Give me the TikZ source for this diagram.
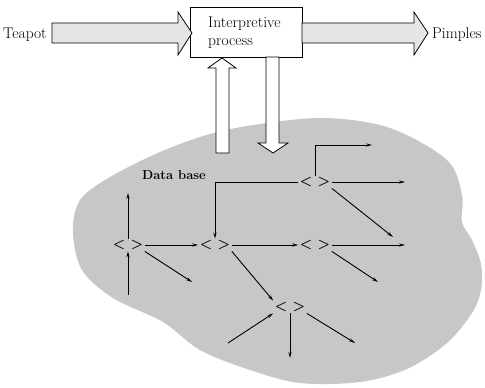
\documentclass[tikz,border=0pt]{standalone}
\usepackage{fontspec}
\usetikzlibrary{arrows.meta}
\begin{document}
\begin{tikzpicture}[x=1pt,y=-1pt,
  lbl/.style={font=\fontsize{15.5}{17.5}\selectfont, inner sep=0pt},
  vtx/.style={font=\bfseries\fontsize{14}{16}\selectfont, inner sep=1.5pt},
  arr/.style={line width=0.9pt, -{Stealth[length=6pt,width=3.2pt]}},
  fat/.style={draw=black, line width=0.8pt, fill=black!10, line join=miter},
  hollow/.style={draw=black, line width=0.8pt, fill=white}]
\useasboundingbox (0,0) rectangle (485,388);
% data base blob
\fill[black!22] plot[smooth cycle, tension=0.55] coordinates {
 (73,232) (80,200) (110,177) (160,152) (210,134) (260,124) (325,118)
 (390,128) (447,160) (462,195) (462,222) (472,240) (481,264) (481,290)
 (472,313) (447,343) (407,369) (360,382) (300,383) (250,370) (200,350)
 (163,322) (113,298) (82,270)};
% labels and box
\node[lbl, anchor=base west] (teapot) at (3,38) {Teapot};
\node[lbl, anchor=base west] (pimples) at (432,38) {Pimples};
\node[draw, line width=0.8pt, fill=white, minimum width=112pt, minimum height=50pt,
      inner sep=0pt] (proc) at (246,32) {};
\node[lbl, align=left, anchor=north west] (proctext) at (208,17) {Interpretive\\process};
% big arrows
\draw[fat] (52,23) -- (178,23) -- (178,12) -- (192,33) -- (178,55) -- (178,43) -- (52,43) -- cycle;
\draw[fat] (302,23) -- (414,23) -- (414,12) -- (428,33) -- (414,55) -- (414,43) -- (302,43) -- cycle;
% up and down arrows
\draw[hollow] (216,153) -- (216,68) -- (208,68) -- (222,58) -- (236,68) -- (229,68) -- (229,153) -- cycle;
\draw[hollow] (266,57) -- (266,143) -- (258,143) -- (273,153) -- (288,143) -- (279,143) -- (279,57) -- cycle;
\node[font=\bfseries\fontsize{13}{15}\selectfont, inner sep=0pt] (db) at (174,175) {Data base};
% vertices
\node[vtx] (N1) at (315,182) {< >};
\node[vtx] (A) at (128,245) {< >};
\node[vtx] (B) at (215,245) {< >};
\node[vtx] (C) at (315,245) {< >};
\node[vtx] (D) at (290,307) {< >};
% free ends
\coordinate (t1) at (372,145);
\coordinate (r1) at (405,182);
\coordinate (d1) at (393,237);
\coordinate (a1) at (128,193);
\coordinate (a2) at (128,295);
\coordinate (a3) at (192,282);
\coordinate (r2) at (405,245);
\coordinate (c3) at (378,282);
\coordinate (d2) at (228,343);
\coordinate (d3) at (290,358);
\coordinate (d4) at (355,343);
% connectors
\draw[arr] (N1.north) |- (t1);
\draw[arr] (N1.east) -- (r1);
\draw[arr] (N1.west) -| (B.north);
\draw[arr] (N1.south east) -- (d1);
\draw[arr] (A.east) -- (B.west);
\draw[arr] (B.east) -- (C.west);
\draw[arr] (C.east) -- (r2);
\draw[arr] (A.north) -- (a1);
\draw[arr] (a2) -- (A.south);
\draw[arr] (A.south east) -- (a3);
\draw[arr] (B.south east) -- (D.north west);
\draw[arr] (C.south east) -- (c3);
\draw[arr] (d2) -- (D.south west);
\draw[arr] (D.south) -- (d3);
\draw[arr] (D.south east) -- (d4);
\end{tikzpicture}
\end{document}
